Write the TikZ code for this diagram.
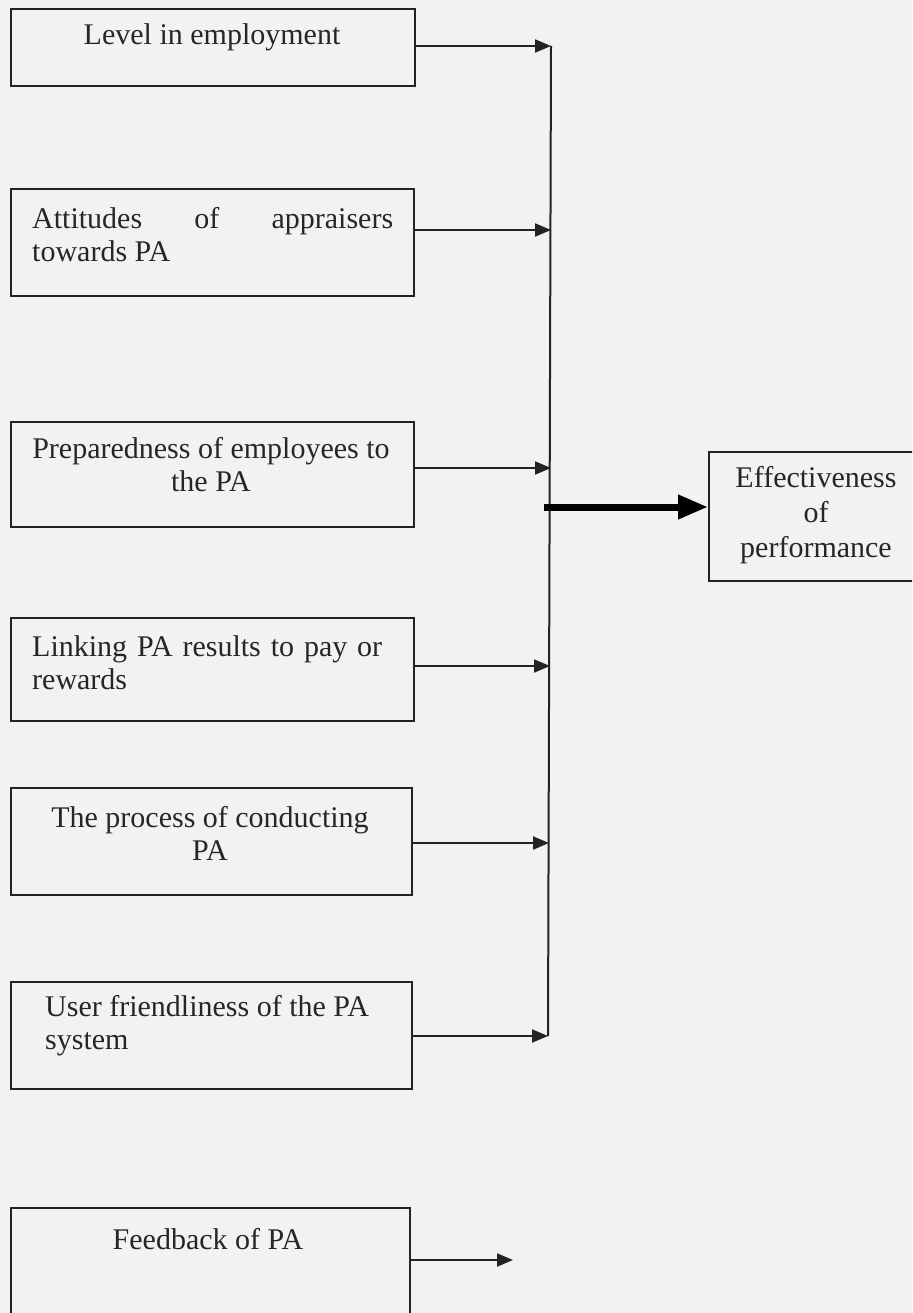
\documentclass[tikz,border=0pt]{standalone}
\usepackage{fontspec}
\setmainfont{Liberation Serif}
\usetikzlibrary{arrows.meta}
\definecolor{bgc}{RGB}{242,242,241}
\definecolor{linec}{RGB}{35,35,35}
\definecolor{textc}{RGB}{38,38,38}
\begin{document}
\begin{tikzpicture}[x=1pt,y=-1pt,
  box/.style={draw=linec, line width=1.8pt, rectangle, inner sep=0pt, anchor=north west},
  lbl/.style={text=textc, inner sep=0pt, font=\fontsize{30}{33}\selectfont},
  conn/.style={draw=linec, line width=2pt, -{Triangle[length=16pt,width=13pt]}},
  bigconn/.style={draw=black, line width=7pt, -{Triangle[length=30pt,width=23pt]}},
  spine/.style={draw=linec, line width=2pt}]
\fill[bgc] (0,0) rectangle (912,1313);
\useasboundingbox (0,0) rectangle (912,1313);
\clip (0,0) rectangle (912,1313);

% boxes
\node[box, minimum width=404pt, minimum height=77pt]  (b1) at (10,8) {};
\node[box, minimum width=403pt, minimum height=107pt] (b2) at (10,188) {};
\node[box, minimum width=403pt, minimum height=105pt] (b3) at (10,421) {};
\node[box, minimum width=403pt, minimum height=103pt] (b4) at (10,617) {};
\node[box, minimum width=401pt, minimum height=107pt] (b5) at (10,787) {};
\node[box, minimum width=401pt, minimum height=107pt] (b6) at (10,981) {};
\node[box, minimum width=399pt, minimum height=130pt] (b7) at (10,1207) {};
\node[box, minimum width=220pt, minimum height=129pt] (eff) at (708,451) {};

% texts
\node[lbl] (t1) at (212,37) {Level in employment};
\node[lbl, anchor=west, align=left] (t2) at (32,235) {\makebox[361pt][l]{Attitudes\hfill of\hfill appraisers}\\towards PA};
\node[lbl, align=center] (t3) at (211,465) {Preparedness of employees to\\the PA};
\node[lbl, anchor=west, align=left] (t4) at (32,663) {\makebox[350pt][s]{Linking PA results to pay or}\\rewards};
\node[lbl, align=center] (t5) at (210,833) {The process of conducting\\PA};
\node[lbl, anchor=west, align=left] (t6) at (45,1026) {User friendliness of the PA\\system};
\node[lbl] (t7) at (208,1239) {Feedback of PA};
\node[lbl, align=center, font=\fontsize{30}{35}\selectfont] (te) at (816,515) {Effectiveness\\of\\performance};

% junction points on the collecting line
\coordinate (j1) at (551,46);
\coordinate (j2) at (551,230);
\coordinate (j3) at (551,468);
\coordinate (j4) at (550,666);
\coordinate (j5) at (549,843);
\coordinate (j6) at (548,1036);
\coordinate (m)  at (544,507);
\coordinate (f)  at (513,1260);

\draw[spine] (j1) -- (j6);
\draw[conn] (b1.east |- j1) -- (j1);
\draw[conn] (b2.east |- j2) -- (j2);
\draw[conn] (b3.east |- j3) -- (j3);
\draw[conn] (b4.east |- j4) -- (j4);
\draw[conn] (b5.east |- j5) -- (j5);
\draw[conn] (b6.east |- j6) -- (j6);
\draw[bigconn] (m) -- (eff.west |- m);
\draw[conn] (b7.east |- f) -- (f);
\end{tikzpicture}
\end{document}
